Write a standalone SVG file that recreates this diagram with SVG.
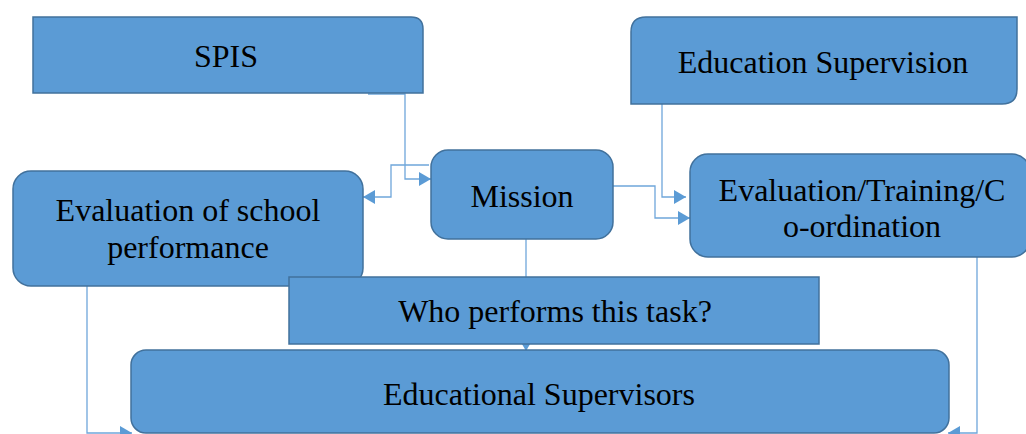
<svg xmlns="http://www.w3.org/2000/svg" width="1026" height="434" viewBox="0 0 1026 434">
  <style>
    .box { fill: #5B9BD5; stroke: #41719C; stroke-width: 1.5; }
    .lbl { font-family: "Liberation Serif", "Times New Roman", serif; font-size: 32px; fill: #000; text-anchor: middle; }
    .con { fill: none; stroke: #6FA6DA; stroke-width: 1.3; }
  </style>
  <defs>
    <marker id="arr" viewBox="0 0 12 14" refX="12" refY="7" markerWidth="12" markerHeight="14" markerUnits="userSpaceOnUse" orient="auto">
      <path d="M0,0 L12,7 L0,14 z" fill="#5B9BD5"/>
    </marker>
  </defs>

  <g id="connectors">
    <path class="con" d="M368,94 H405 V179 H431" marker-end="url(#arr)"/>
    <path class="con" d="M429,165 H391 V197 H363" marker-end="url(#arr)"/>
    <path class="con" d="M662,104 V197 H686" marker-end="url(#arr)"/>
    <path class="con" d="M613,186 H655 V218 H690" marker-end="url(#arr)"/>
    <path class="con" d="M526,239 V351" marker-end="url(#arr)"/>
    <path class="con" d="M87,286 V433 H132" marker-end="url(#arr)"/>
    <path class="con" d="M977,257 V433 H948" marker-end="url(#arr)"/>
  </g>

  <g id="spis">
    <path class="box" d="M33,17 H411 Q423,17 423,29 V93 H33 Z"/>
    <text class="lbl" x="226" y="67">SPIS</text>
  </g>

  <g id="education-supervision">
    <path class="box" d="M646,17 H1017 V89 Q1017,104 1002,104 H631 V32 Q631,17 646,17 Z"/>
    <text class="lbl" x="823" y="73">Education Supervision</text>
  </g>

  <g id="evaluation-school">
    <rect class="box" x="13" y="171" width="350" height="115" rx="18" ry="18"/>
    <text class="lbl" x="188" y="221">Evaluation of school</text>
    <text class="lbl" x="188" y="258">performance</text>
  </g>

  <g id="mission">
    <rect class="box" x="431" y="150" width="182" height="89" rx="17" ry="17"/>
    <text class="lbl" x="522" y="207">Mission</text>
  </g>

  <g id="evaluation-training">
    <rect class="box" x="690" y="154" width="340" height="103" rx="18" ry="18"/>
    <text class="lbl" x="862" y="201">Evaluation/Training/C</text>
    <text class="lbl" x="862" y="237">o-ordination</text>
  </g>

  <g id="who-performs">
    <rect class="box" x="289" y="277" width="530" height="67"/>
    <text class="lbl" x="555" y="322">Who performs this task?</text>
  </g>

  <g id="educational-supervisors">
    <rect class="box" x="131" y="350" width="818" height="83" rx="15" ry="15"/>
    <text class="lbl" x="539" y="405">Educational Supervisors</text>
  </g>
</svg>
